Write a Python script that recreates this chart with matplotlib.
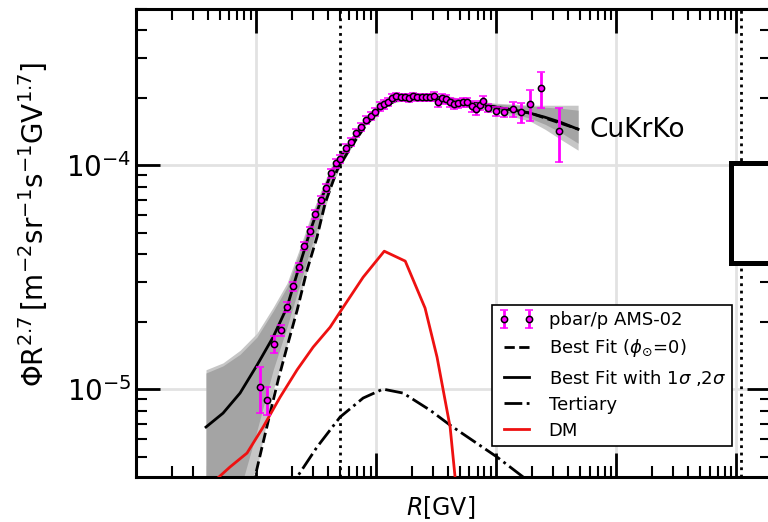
import numpy as np
import matplotlib
matplotlib.use('Agg')
import matplotlib.pyplot as plt
from matplotlib.patches import Rectangle

# AMS-02 points (R in GV, flux*R^2.7)
R_data = [1.08, 1.235, 1.41, 1.62, 1.81, 2.03, 2.28, 2.51, 2.82, 3.10, 3.48, 3.83, 4.22, 4.64,
          5.01, 5.62, 6.19, 6.81, 7.50, 8.25, 9.09, 9.81, 10.8, 11.7, 12.6, 13.6, 14.7, 16.2,
          17.5, 18.8, 20.3, 22.0, 24.2, 26.1, 28.2, 30.4, 32.9, 35.5, 38.3, 41.4, 44.7, 48.2,
          53.1, 57.3, 63.1, 68.1, 73.6, 77.9, 85.8, 100, 117, 139, 162, 192, 237, 335]
flux_data = [0.102, 0.0893, 0.159, 0.183, 0.232, 0.288, 0.351, 0.435, 0.507, 0.604, 0.698, 0.79,
             0.921, 1.02, 1.07, 1.19, 1.27, 1.39, 1.48, 1.59, 1.66, 1.73, 1.83, 1.87, 1.91, 1.99,
             2.03, 2.01, 2.01, 1.99, 2.03, 2.01, 2.01, 2.01, 2.01, 2.03, 1.91, 1.99, 1.97, 1.91,
             1.87, 1.89, 1.91, 1.91, 1.83, 1.78, 1.85, 1.93, 1.80, 1.74, 1.72, 1.78, 1.72, 1.87,
             2.21, 1.42]
err_data = [0.024, 0.013, 0.014, 0.011, 0.012, 0.014, 0.016, 0.019, 0.022, 0.026, 0.03, 0.034,
            0.04, 0.044, 0.046, 0.05, 0.055, 0.06, 0.064, 0.068, 0.07, 0.074, 0.078, 0.08, 0.08,
            0.08, 0.08, 0.08, 0.08, 0.08, 0.08, 0.08, 0.08, 0.08, 0.08, 0.085, 0.085, 0.085, 0.09,
            0.09, 0.09, 0.09, 0.09, 0.09, 0.1, 0.1, 0.09, 0.11, 0.08, 0.08, 0.08, 0.13, 0.18, 0.3,
            0.4, 0.39]

# best fit and bands (units of 1e-4)
R_fit = [0.383, 0.531, 0.736, 1.02, 1.39, 1.81, 2.28, 2.82, 3.48, 4.22, 5.01, 6.19, 7.50, 9.09,
         10.8, 13.6, 17.5, 23.2, 31.0, 41.4, 55.0, 73.6, 100, 144, 192, 255, 343, 482]
fit = [0.0677, 0.0781, 0.0960, 0.128, 0.171, 0.232, 0.350, 0.507, 0.698, 0.921, 1.086, 1.267,
       1.478, 1.672, 1.815, 1.951, 2.012, 2.032, 2.012, 1.970, 1.911, 1.872, 1.815, 1.760, 1.707,
       1.638, 1.556, 1.448]
up2 = [0.122, 0.131, 0.149, 0.178, 0.232, 0.297, 0.417, 0.580, 0.773, 0.990, 1.143, 1.320, 1.524,
       1.724, 1.872, 2.012, 2.075, 2.096, 2.075, 2.032, 1.970, 1.931, 1.891, 1.872, 1.853, 1.853,
       1.853, 1.853]
up1 = [0.118, 0.127, 0.143, 0.171, 0.223, 0.285, 0.401, 0.562, 0.758, 0.970, 1.131, 1.307, 1.509,
       1.707, 1.853, 1.991, 2.053, 2.075, 2.053, 2.012, 1.951, 1.911, 1.872, 1.853, 1.834, 1.815,
       1.797, 1.760]
lo1 = [0.0260, 0.0303, 0.0354, 0.0656, 0.122, 0.189, 0.285, 0.417, 0.598, 0.840, 1.021, 1.216,
       1.433, 1.638, 1.778, 1.911, 1.970, 1.991, 1.970, 1.931, 1.872, 1.834, 1.760, 1.689, 1.621,
       1.524, 1.404, 1.254]
lo2 = [0.0235, 0.0274, 0.0320, 0.0444, 0.0990, 0.157, 0.250, 0.377, 0.556, 0.798, 0.980, 1.191,
       1.418, 1.621, 1.760, 1.891, 1.951, 1.970, 1.951, 1.911, 1.853, 1.797, 1.724, 1.638, 1.572,
       1.448, 1.307, 1.167]

# best fit without modulation (units of 1e-4)
R_nomod = [0.891, 0.981, 1.122, 1.31, 1.53, 1.81, 2.20, 2.66, 3.22, 3.76, 4.73, 6.07, 8.09, 10.8,
           15.8, 28.2, 73.6, 192, 482]
nomod = [0.0319, 0.0405, 0.0551, 0.0781, 0.110, 0.154, 0.225, 0.340, 0.477, 0.676, 0.95, 1.19,
         1.49, 1.78, 1.99, 2.01, 1.87, 1.71, 1.45]

# DM and tertiary (units of 1e-5)
R_dm = [0.414, 0.607, 0.841, 1.144, 1.585, 2.20, 2.99, 4.14, 5.01, 7.80, 11.7, 17.5, 25.6, 32.2,
        41.4, 45.5, 48.2]
dm = [0.373, 0.449, 0.518, 0.676, 0.92, 1.22, 1.54, 1.89, 2.21, 3.16, 4.13, 3.73, 2.30, 1.39,
      0.676, 0.405, 0.32]
R_ter = [1.92, 2.20, 3.22, 5.01, 7.80, 11.4, 16.8, 28.2, 41.4, 102, 168, 233]
ter = [0.336, 0.405, 0.551, 0.75, 0.912, 1.0, 0.96, 0.805, 0.69, 0.497, 0.405, 0.354]

R_vlines = [5.0, 1.1e4]

s4 = 1e-4
s5 = 1e-5

fig = plt.figure(figsize=(7.68, 5.22), dpi=100)
ax = fig.add_axes([136 / 768, 45 / 522, 635 / 768, 468.3 / 522])

ax.fill_between(R_fit, np.array(lo2) * s4, np.array(up2) * s4, color='#c6c6c6', lw=0, zorder=1)
ax.fill_between(R_fit, np.array(lo1) * s4, np.array(up1) * s4, color='#a4a4a4', lw=0, zorder=1)

ax.plot(R_nomod, np.array(nomod) * s4, 'k--', lw=2, label=r'Best Fit ($\phi_{\odot}$=0)', zorder=3)
ax.plot(R_fit, np.array(fit) * s4, 'k-', lw=2, label=r'Best Fit with 1$\sigma$ ,2$\sigma$', zorder=3)
ax.plot(R_ter, np.array(ter) * s5, 'k-.', lw=2, label='Tertiary', zorder=3)
ax.plot(R_dm, np.array(dm) * s5, '-', color='#ee1111', lw=2, label='DM', zorder=3)

ax.errorbar(R_data, np.array(flux_data) * s4, yerr=np.array(err_data) * s4, fmt='o',
            ms=4.5, mfc='magenta', mec='black', mew=1.1, ecolor='magenta', elinewidth=2,
            capsize=3, capthick=1.5, label='pbar/p AMS-02', zorder=4)

for xv in R_vlines:
    ax.axvline(xv, color='black', ls=':', lw=2, zorder=2)

ax.set_xscale('log')
ax.set_yscale('log')
ax.set_xlim(0.1, 1.95e4)
ax.set_ylim(4.05e-6, 5e-4)

ax.grid(True, which='major', color='#e2e2e2', lw=2, zorder=0)
ax.set_axisbelow(True)
ax.tick_params(which='both', direction='in', top=True, right=True, labelbottom=False)
ax.tick_params(which='major', length=17, width=2, labelsize=20)
ax.tick_params(which='minor', length=8, width=1.5)
for sp in ax.spines.values():
    sp.set_linewidth(2.2)

ax.set_xlabel(r'$R$[GV]', fontsize=17)
ax.xaxis.set_label_coords(0.48, -0.036)
ax.set_ylabel(r'$\Phi\mathrm{R}^{2.7}\,[\mathrm{m}^{-2}\mathrm{sr}^{-1}\mathrm{s}^{-1}\mathrm{GV}^{1.7}]$',
              fontsize=20)
ax.yaxis.set_label_coords(-0.135, 0.54)

ax.text(600, 1.43e-4, 'CuKrKo', fontsize=19, ha='left', va='center')

leg = ax.legend(handles=[ax.containers[0]] + ax.lines[:4], loc='lower right',
                bbox_to_anchor=(0.939, 0.066), borderaxespad=0, fancybox=False,
                edgecolor='black', framealpha=1, fontsize=13, numpoints=2,
                handlelength=2.0, borderpad=0.35, labelspacing=0.45)
leg.get_frame().set_linewidth(1.2)
leg.set_zorder(6)

ax.add_patch(Rectangle((0.937, 0.457), 0.3, 0.214, transform=ax.transAxes, fill=True,
                       facecolor='white', edgecolor='black', lw=3.6, clip_on=False, zorder=7))

fig.savefig('out.png', dpi=100)
